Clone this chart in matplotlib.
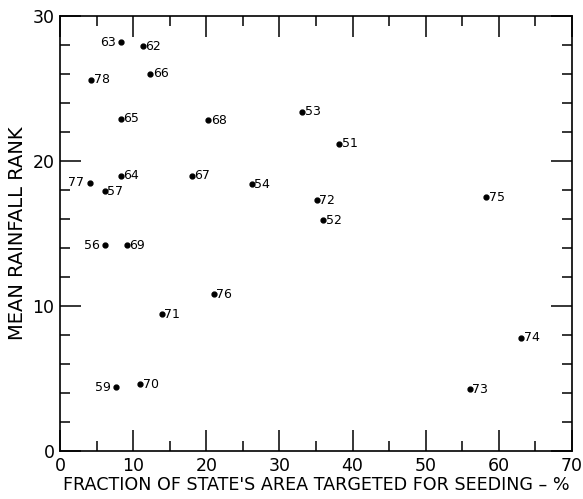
import matplotlib
matplotlib.use('Agg')
import matplotlib.pyplot as plt
from matplotlib.ticker import MultipleLocator

# fraction of state's area targeted (%), mean rainfall rank, year label
frac = [8.4, 11.3, 4.3, 12.3, 8.3, 20.3, 8.3, 4.1, 6.1, 18.0, 26.2, 6.2, 9.1,
        33.1, 38.2, 35.1, 36.0, 58.3, 21.0, 13.9, 7.7, 10.9, 63.1, 56.0]
rank = [28.2, 27.9, 25.6, 26.0, 22.9, 22.8, 19.0, 18.5, 17.9, 19.0, 18.4, 14.2, 14.2,
        23.4, 21.2, 17.3, 15.9, 17.5, 10.8, 9.45, 4.4, 4.6, 7.8, 4.25]
years = ['63', '62', '78', '66', '65', '68', '64', '77', '57', '67', '54', '56', '69',
         '53', '51', '72', '52', '75', '76', '71', '59', '70', '74', '73']
left_side = ['63', '77', '56', '59']

fig = plt.figure(figsize=(5.83, 4.99), dpi=100)
ax = fig.add_axes([0.103, 0.096, 0.878, 0.872])

ax.plot(frac, rank, 'o', color='black', markersize=3.5)
for x, y, s in zip(frac, rank, years):
    if s in left_side:
        ax.annotate(s, (x, y), xytext=(-4, 0), textcoords='offset points',
                    ha='right', va='center', fontsize=9)
    else:
        ax.annotate(s, (x, y), xytext=(2, 0), textcoords='offset points',
                    ha='left', va='center', fontsize=9)

ax.set_xlim(0, 70)
ax.set_ylim(0, 30)
ax.xaxis.set_major_locator(MultipleLocator(10))
ax.xaxis.set_minor_locator(MultipleLocator(5))
ax.yaxis.set_major_locator(MultipleLocator(10))
ax.yaxis.set_minor_locator(MultipleLocator(2))
ax.tick_params(which='both', direction='in', top=True, right=True,
               labelsize=12.5, width=1.1, pad=4)
ax.tick_params(which='major', length=15)
ax.tick_params(which='minor', length=7)
for sp in ax.spines.values():
    sp.set_linewidth(1.2)

ax.set_xlabel("FRACTION OF STATE'S AREA TARGETED FOR SEEDING \u2013 %",
              fontsize=12.6, labelpad=1)
ax.set_ylabel('MEAN RAINFALL RANK', fontsize=14, labelpad=4)

fig.savefig('out.png', dpi=100)
